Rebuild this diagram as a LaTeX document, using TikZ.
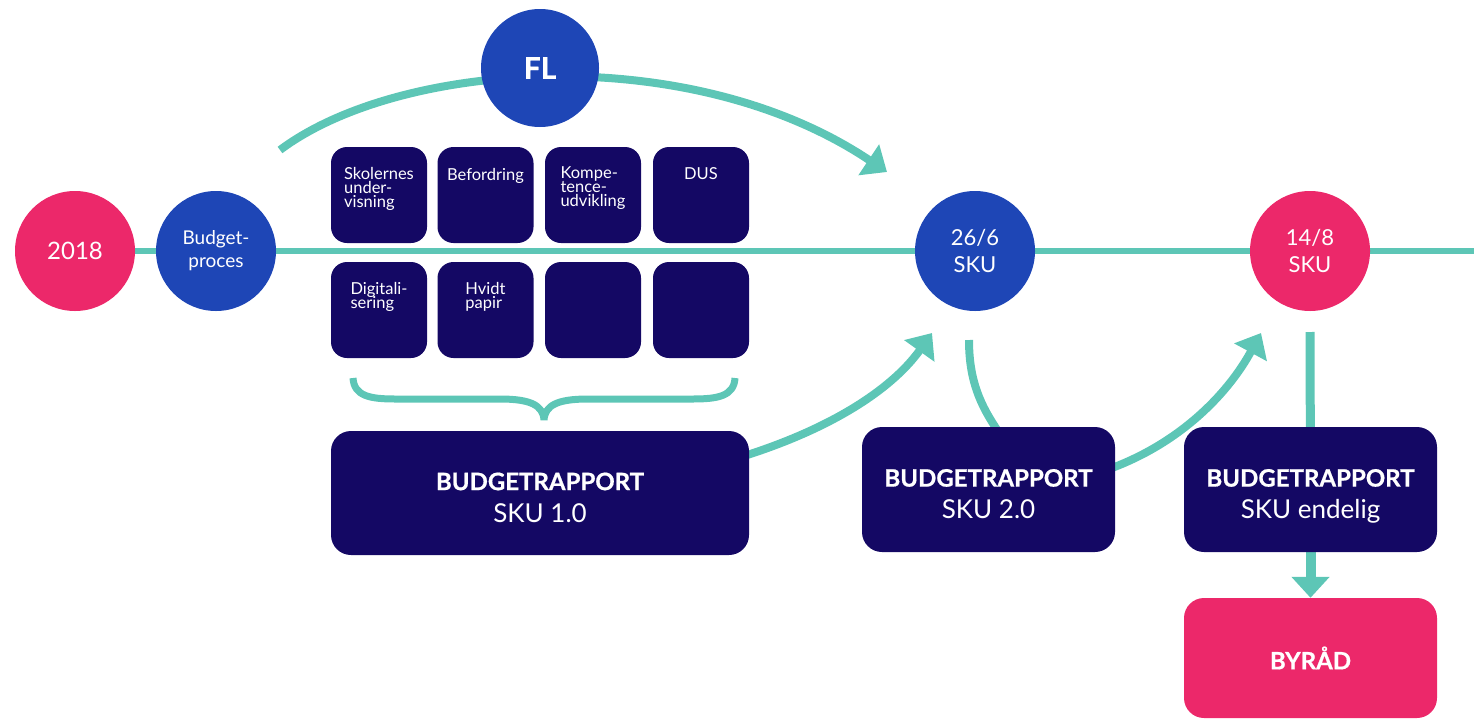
\documentclass[tikz,border=0pt]{standalone}
\usepackage{fontspec}
\setmainfont{Lato}
\newfontfamily\heavyfont{Lato}[BoldFeatures={FakeBold=0.8}]
\usetikzlibrary{arrows.meta,backgrounds,calc}
\definecolor{pinkc}{HTML}{EC286A}
\definecolor{bluec}{HTML}{1E46B6}
\definecolor{navyc}{HTML}{140864}
\definecolor{tealc}{HTML}{5DC6B6}
\newcommand\tightfont{\fontsize{16.5}{14}\selectfont\setlength{\lineskiplimit}{-10pt}}
\tikzset{
 circ/.style={circle, minimum size=120pt, inner sep=0pt, text=white, align=center},
 sbox/.style={rectangle, rounded corners=16pt, fill=navyc, minimum width=96pt, minimum height=96pt, inner sep=0pt},
 stxt/.style={text=white, align=left, inner sep=0pt, anchor=north, font=\tightfont},
 bbox/.style={rectangle, rounded corners=20pt, fill=navyc, text=white, align=center, inner sep=0pt, font=\fontsize{26}{32}\selectfont},
 conn/.style={draw=tealc, line width=8pt},
 tip/.style={-{Triangle[length=22pt,width=36pt]}},
}
\newcommand\heading[1]{{\heavyfont\bfseries\fontsize{24}{32}\selectfont\rule{0pt}{31pt}#1}}
\begin{document}
\begin{tikzpicture}[x=1pt,y=-1pt]
\useasboundingbox (0,0) rectangle (1474,718);
% timeline circles
\node[circ, fill=pinkc, font=\fontsize{24}{28}\selectfont] (y2018) at (75,251) {2018};
\node[circ, fill=bluec, font=\fontsize{19}{23}\selectfont] (bud) at (216,251) {Budget-\\proces};
\node[circ, fill=bluec, minimum size=118pt, font=\heavyfont\bfseries\fontsize{30}{30}\selectfont] (fl) at (540,68) {FL};
\node[circ, fill=bluec, font=\fontsize{22}{27}\selectfont] (d26) at (975,251) {26/6\\SKU};
\node[circ, fill=pinkc, font=\fontsize{22}{27}\selectfont] (d148) at (1310,251) {14/8\\SKU};
% small boxes
\node[sbox] (s1) at (379,195) {};
\node[sbox] (s2) at (485.5,195) {};
\node[sbox] (s3) at (593,195) {};
\node[sbox] (s4) at (701,195) {};
\node[sbox] (s5) at (379,310) {};
\node[sbox] (s6) at (485.5,310) {};
\node[sbox] (s7) at (593,310) {};
\node[sbox] (s8) at (701,310) {};
\node[stxt] (t1) at ($(s1.north)+(0,20)$) {Skolernes\\under-\\visning};
\node[stxt] (t2) at ($(s2.north)+(0,21)$) {Befordring};
\node[stxt] (t3) at ($(s3.north)+(0,20)$) {Kompe-\\tence-\\udvikling};
\node[stxt] (t4) at ($(s4.north)+(0,21)$) {DUS};
\node[stxt] (t5) at ($(s5.north)+(0,20)$) {Digitali-\\sering};
\node[stxt] (t6) at ($(s6.north)+(0,20)$) {Hvidt\\papir};
% big boxes
\node[bbox, minimum width=418pt, minimum height=124pt] (rep1) at (540,493) {\heading{BUDGETRAPPORT}\\SKU 1.0\vphantom{g}};
\node[bbox, minimum width=253pt, minimum height=125pt] (rep2) at (988.5,489.5) {\heading{BUDGETRAPPORT}\\SKU 2.0\vphantom{g}};
\node[bbox, minimum width=253pt, minimum height=125pt] (rep3) at (1310.5,489.5) {\heading{BUDGETRAPPORT}\\SKU endelig};
\node[bbox, fill=pinkc, minimum width=253pt, minimum height=120pt, font=\heavyfont\bfseries\fontsize{24}{28}\selectfont] (byr) at (1310.5,658) {BYRÅD};
% free ends
\coordinate (lineend) at (1474,251);
\coordinate (flstart) at (280,150);
\coordinate (fltip) at (887,172);
\coordinate (tip26) at (932,333);
\coordinate (tip148) at (1261,333);
\coordinate (from26) at (969,340);
\coordinate (from148) at (1310,332);
\coordinate (bracetip) at (544,420);
\begin{scope}[on background layer]
\draw[tealc, line width=6.5pt] (y2018.center) -- (lineend);
\draw[conn, tip] (flstart) .. controls (400,60) and (690,40) .. (fltip);
\draw[conn, tip] ($(rep1.east)+(-2,-38)$) .. controls (840,425) and (895,385) .. (tip26);
\draw[conn, tip] ($(rep2.east)+(-2,-22)$) .. controls (1185,440) and (1230,390) .. (tip148);
\draw[conn] (from26) .. controls (969,380) and (980,405) .. ($(rep2.north)+(10,5)$);
\draw[tealc, line width=9pt] (from148) -- (rep3.center);
\draw[tealc, line width=10pt, -{Triangle[length=21pt,width=37pt]}] (rep3.south) -- (byr.north);
\draw[tealc, line width=7pt, line join=bevel]
  (353,378) .. controls (354,396) and (370,399) .. (395,399) -- (500,399)
  .. controls (530,399) and (543,405) .. (bracetip)
  .. controls (545,405) and (558,399) .. (588,399) -- (693,399)
  .. controls (718,399) and (734,396) .. (735,378);
\end{scope}
\end{tikzpicture}
\end{document}
